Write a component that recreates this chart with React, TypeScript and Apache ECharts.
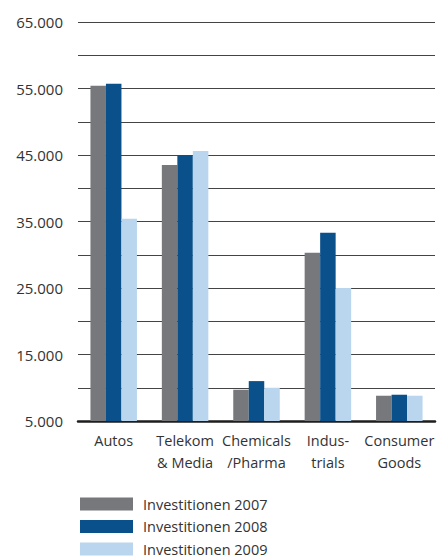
import React, { useEffect, useRef } from "react";
import * as echarts from "echarts";

const categories = ["Autos", "Telekom\n& Media", "Chemicals\n/Pharma", "Indus-\ntrials", "Consumer\nGoods"];
const seriesNames = ["Investitionen 2007", "Investitionen 2008", "Investitionen 2009"];
const inv2007 = [55400, 43500, 9700, 30300, 8800];
const inv2008 = [55700, 45000, 11000, 33300, 8950];
const inv2009 = [35400, 45600, 10000, 25000, 8800];
const colors = ["#77787c", "#0a518b", "#b9d6ee"];

const FONT = "'Open Sans', 'Noto Sans', sans-serif";

export default function App() {
  const ref = useRef<HTMLDivElement>(null);
  useEffect(() => {
    if (!ref.current) return;
    const chart = echarts.init(ref.current, undefined, { renderer: "svg" });
    const data = [inv2007, inv2008, inv2009];
    chart.setOption({
      animation: false,
      grid: { left: 78, right: 9, top: 22, bottom: 136 },
      legend: {
        orient: "vertical",
        left: 80,
        top: 496,
        height: 80,
        itemWidth: 53,
        itemHeight: 13,
        itemGap: 6.5,
        icon: "rect",
        padding: 0,
        textStyle: { fontFamily: FONT, fontSize: 14.5, lineHeight: 16, color: "#333", padding: [0, 0, 0, 5] },
        data: seriesNames,
      },
      xAxis: {
        type: "category",
        data: categories,
        axisLine: { show: true, lineStyle: { color: "#1e1e1e", width: 2.5 } },
        axisTick: { show: false },
        axisLabel: {
          fontFamily: FONT,
          fontSize: 14.5,
          color: "#333",
          lineHeight: 22,
          margin: 8,
          interval: 0,
        },
      },
      yAxis: {
        type: "value",
        min: 5000,
        max: 65000,
        interval: 5000,
        axisLine: { show: false },
        axisTick: { show: false },
        splitLine: { show: true, lineStyle: { color: "#444", width: 1 } },
        axisLabel: {
          fontFamily: FONT,
          fontSize: 15,
          color: "#333",
          margin: 15,
          formatter: (v: number) =>
            (v - 5000) % 10000 === 0 ? v.toLocaleString("de-DE").replace(/,/g, ".") : "",
        },
      },
      series: seriesNames.map((name, i) => ({
        name,
        type: "bar",
        data: data[i],
        barWidth: 15.5,
        barGap: "0%",
        itemStyle: { color: colors[i] },
      })),
    });
    return () => chart.dispose();
  }, []);
  return <div ref={ref} style={{ width: 444, height: 557, position: "absolute", left: 0, top: 0 }} />;
}
